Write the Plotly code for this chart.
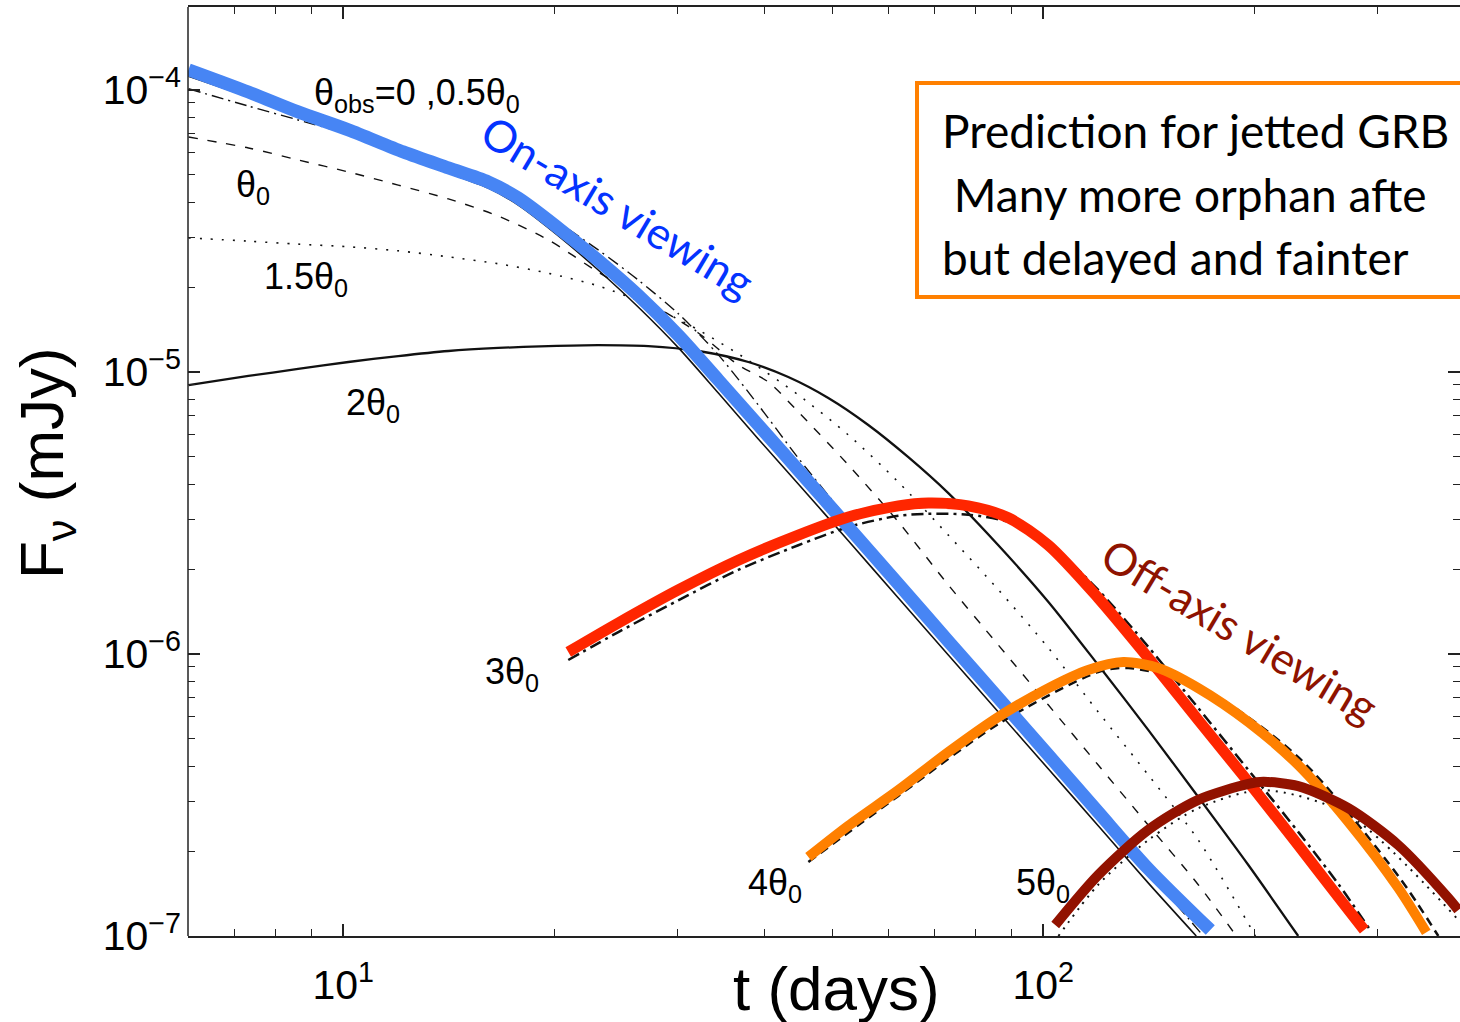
import math
import plotly.graph_objects as go

# ---------------- data: t (days), F_nu (mJy) ----------------
# on-axis highlight (thick blue)
t_blue = [6.01, 7.32, 8.62, 10.17, 12.18, 14.13, 16.11, 17.78, 20.29, 23.13, 26.38, 30.10,
          34.34, 39.16, 44.67, 52.66, 62.08, 73.17, 86.25, 101.7, 119.8, 141.3, 173.2]
f_blue = [1.18e-4, 9.84e-5, 8.36e-5, 7.22e-5, 6.03e-5, 5.29e-5, 4.72e-5, 4.14e-5, 3.24e-5,
          2.49e-5, 1.87e-5, 1.35e-5, 9.37e-6, 6.49e-6, 4.49e-6, 2.82e-6, 1.77e-6, 1.11e-6,
          6.98e-7, 4.38e-7, 2.75e-7, 1.73e-7, 1.05e-7]

# theta_obs = 0 (thin solid)
t_th00 = [6.01, 7.32, 8.62, 10.17, 12.18, 14.13, 16.11, 17.78, 20.29, 23.13, 26.38, 30.10,
          34.34, 39.16, 44.67, 52.66, 62.08, 73.17, 86.25, 101.7, 119.8, 141.3, 165.4]
f_th00 = [1.12e-4, 9.45e-5, 8.02e-5, 6.93e-5, 5.79e-5, 5.08e-5, 4.49e-5, 3.91e-5, 3.04e-5,
          2.30e-5, 1.70e-5, 1.22e-5, 8.42e-6, 5.79e-6, 4.01e-6, 2.52e-6, 1.58e-6, 9.92e-7,
          6.23e-7, 3.91e-7, 2.46e-7, 1.54e-7, 1.0e-7]

# theta_obs = 0.5 theta_0 (dash-dot)
t_th05 = [6.01, 7.32, 8.62, 10.17, 11.98, 14.13, 16.65, 19.63, 23.13, 26.38, 30.10, 34.34,
          39.16, 44.67, 52.66, 62.08, 73.17, 86.25, 101.7, 119.8, 141.3, 169.3]
f_th05 = [1.01e-4, 8.77e-5, 7.83e-5, 6.98e-5, 6.13e-5, 5.38e-5, 4.53e-5, 3.57e-5, 2.71e-5,
          2.12e-5, 1.61e-5, 1.15e-5, 7.64e-6, 4.95e-6, 2.99e-6, 1.83e-6, 1.12e-6, 6.98e-7,
          4.35e-7, 2.71e-7, 1.69e-7, 1.0e-7]

# theta_obs = theta_0 (dashed)
t_th10 = [6.01, 7.32, 8.62, 10.17, 11.98, 14.13, 16.65, 19.63, 23.13, 27.27, 32.15, 36.66,
          40.46, 44.67, 52.66, 62.08, 73.17, 86.25, 101.7, 119.8, 141.3, 166.5, 188.7]
f_th10 = [6.81e-5, 6.23e-5, 5.65e-5, 5.12e-5, 4.60e-5, 4.11e-5, 3.57e-5, 2.94e-5, 2.26e-5,
          1.77e-5, 1.375e-5, 1.059e-5, 9.22e-6, 7.22e-6, 4.68e-6, 2.94e-6, 1.757e-6,
          1.076e-6, 6.59e-7, 4.04e-7, 2.47e-7, 1.52e-7, 1.0e-7]

# theta_obs = 1.5 theta_0 (dotted)
t_th15 = [6.01, 7.32, 8.62, 10.17, 11.98, 14.13, 16.65, 19.63, 23.13, 27.27, 32.15, 37.90,
          44.67, 52.66, 62.08, 73.17, 86.25, 101.7, 119.8, 141.3, 166.5, 200.9]
f_th15 = [2.99e-5, 2.91e-5, 2.84e-5, 2.78e-5, 2.69e-5, 2.56e-5, 2.42e-5, 2.24e-5, 2.02e-5,
          1.73e-5, 1.41e-5, 1.10e-5, 8.29e-6, 5.98e-6, 4.07e-6, 2.64e-6, 1.69e-6, 1.05e-6,
          6.23e-7, 3.72e-7, 2.19e-7, 1.0e-7]

# theta_obs = 2 theta_0 (solid)
t_th20 = [6.01, 7.32, 8.62, 10.17, 11.98, 14.13, 16.65, 19.63, 23.13, 27.27, 32.15, 37.90,
          43.22, 49.30, 56.23, 64.15, 73.17, 86.25, 101.7, 119.8, 141.3, 166.5, 196.3, 231.3]
f_th20 = [8.99e-6, 9.68e-6, 1.025e-5, 1.085e-5, 1.139e-5, 1.187e-5, 1.217e-5, 1.236e-5,
          1.246e-5, 1.236e-5, 1.187e-5, 1.085e-5, 9.60e-6, 8.09e-6, 6.49e-6, 4.99e-6,
          3.72e-6, 2.43e-6, 1.53e-6, 9.14e-7, 5.37e-7, 3.11e-7, 1.785e-7, 1.0e-7]

# theta_obs = 3 theta_0 (black dash-dot) and red highlight
t_th30 = [20.96, 24.71, 30.10, 36.66, 44.67, 52.66, 62.08, 68.50, 78.13, 89.13, 101.7, 119.8,
          141.3, 166.5, 196.3, 231.3, 263.9, 293.1]
f_th30 = [9.52e-7, 1.196e-6, 1.55e-6, 1.986e-6, 2.43e-6, 2.82e-6, 3.09e-6, 3.14e-6, 3.12e-6,
          2.94e-6, 2.47e-6, 1.687e-6, 1.059e-6, 6.43e-7, 3.88e-7, 2.34e-7, 1.53e-7, 1.05e-7]
t_red = [20.96, 24.71, 30.10, 36.66, 44.67, 52.66, 62.08, 68.50, 78.13, 89.13, 101.7, 119.8,
         141.3, 166.5, 196.3, 231.3, 263.9, 287.4]
f_red = [1.016e-6, 1.288e-6, 1.687e-6, 2.15e-6, 2.64e-6, 3.06e-6, 3.35e-6, 3.43e-6, 3.35e-6,
         3.04e-6, 2.43e-6, 1.58e-6, 9.68e-7, 5.83e-7, 3.52e-7, 2.10e-7, 1.375e-7, 1.05e-7]

# theta_obs = 4 theta_0 (black dashed) and orange highlight
t_th40 = [46.17, 62.08, 86.25, 119.8, 132.3, 166.5, 231.3, 321.5, 366.7]
f_th40 = [1.83e-7, 3.14e-7, 5.65e-7, 8.63e-7, 8.92e-7, 7.70e-7, 4.31e-7, 1.632e-7, 1.0e-7]
t_orange = [46.17, 52.66, 62.08, 73.17, 86.25, 101.7, 115.9, 130.1, 146.0, 166.5, 196.3,
            231.3, 272.7, 321.5, 352.5]
f_orange = [1.906e-7, 2.46e-7, 3.29e-7, 4.49e-7, 5.98e-7, 7.57e-7, 8.78e-7, 9.37e-7, 8.92e-7,
            7.57e-7, 5.74e-7, 4.04e-7, 2.54e-7, 1.48e-7, 1.03e-7]

# theta_obs = 5 theta_0 (black dotted) and dark-red highlight
t_th50 = [105.1, 119.8, 141.3, 166.5, 206.2, 272.7, 391.6]
f_th50 = [1.0e-7, 1.52e-7, 2.19e-7, 2.84e-7, 3.29e-7, 2.69e-7, 1.14e-7]
t_dred = [104.0, 119.8, 141.3, 166.5, 196.3, 206.2, 231.3, 272.7, 321.5, 379.0, 391.6]
f_dred = [1.094e-7, 1.645e-7, 2.38e-7, 3.04e-7, 3.46e-7, 3.52e-7, 3.40e-7, 2.84e-7, 2.10e-7,
          1.364e-7, 1.236e-7]

x_tickvals = [10, 100]
x_ticktext = ["10<sup>1</sup>", "10<sup>2</sup>"]
x_minor = [7, 8, 9, 20, 30, 40, 50, 60, 70, 80, 90, 200, 300]
y_tickvals = [1e-7, 1e-6, 1e-5, 1e-4]
y_ticktext = ["10<sup>\u22127</sup>", "10<sup>\u22126</sup>", "10<sup>\u22125</sup>", "10<sup>\u22124</sup>"]
y_minor = [m * 10.0 ** e for e in (-7, -6, -5, -4) for m in range(2, 10)]

curve_labels = ["\u03b8<sub>obs</sub>=0 ,0.5\u03b8<sub>0</sub>", "\u03b8<sub>0</sub>",
                "1.5\u03b8<sub>0</sub>", "2\u03b8<sub>0</sub>", "3\u03b8<sub>0</sub>",
                "4\u03b8<sub>0</sub>", "5\u03b8<sub>0</sub>"]
# the text box runs off the right edge of the slide; only the visible part is kept
box_lines = ["Prediction for jetted GRB", " Many more orphan afte",
             "but delayed and fainter"]

# ---------------- figure ----------------
fig = go.Figure()

def add(t, f, color, width, dash="solid", shape="spline"):
    fig.add_trace(go.Scatter(x=t, y=f, mode="lines", hoverinfo="skip",
                             line=dict(color=color, width=width, dash=dash, shape=shape,
                                       smoothing=0.8)))

BLK = "#111111"
add(t_th00, f_th00, BLK, 1.6)
add(t_th05, f_th05, BLK, 1.4, dash="12px,5px,2px,5px")
add(t_th10, f_th10, BLK, 1.4, dash="9px,10px")
add(t_th15, f_th15, BLK, 1.6, dash="2px,9px")
add(t_th20, f_th20, BLK, 2.3)
add(t_th30, f_th30, BLK, 2.5, dash="12px,5px,3px,5px")
add(t_th40, f_th40, BLK, 2.5, dash="9px,6px")
add(t_th50, f_th50, BLK, 2.0, dash="2px,6px")

add(t_blue, f_blue, "#4785f4", 13)
add(t_red, f_red, "#ff2600", 11)
add(t_orange, f_orange, "#ff8000", 10)
add(t_dred, f_dred, "#921200", 10)

L, R, T, B = 188, 0, 7, 86
W, H = 1460, 1022
pw, ph = W - L - R, H - T - B
PX_PER_DEC_X, PX_PER_DEC_Y = 700.0, 282.0

def px(xp):
    return (xp - L) / pw

def py(yp):
    return (T + ph - yp) / ph

ann = []
lab_pos = [(417, 95), (253, 187), (306, 279), (373, 405), (512, 674), (775, 885), (1043, 885)]
for txt, (xp, yp) in zip(curve_labels, lab_pos):
    ann.append(dict(x=px(xp), y=py(yp), xref="paper", yref="paper", text=txt, showarrow=False,
                    xanchor="center", yanchor="middle",
                    font=dict(family="Liberation Sans", size=36, color="black")))

ann.append(dict(x=px(618), y=py(206), xref="paper", yref="paper", text="On-axis viewing",
                showarrow=False, textangle=31, xanchor="center", yanchor="middle",
                font=dict(family="Lato", size=44, color="#0433ff")))
ann.append(dict(x=px(1240), y=py(630), xref="paper", yref="paper", text="Off-axis viewing",
                showarrow=False, textangle=31, xanchor="center", yanchor="middle",
                font=dict(family="Lato", size=44, color="#8e1300")))

for txt, yp in zip(box_lines, [131, 194, 257]):
    ann.append(dict(x=px(940), y=py(yp), xref="paper", yref="paper", text=txt,
                    showarrow=False, xanchor="left", yanchor="middle",
                    font=dict(family="Lato", size=46, color="black")))

ann.append(dict(x=px(836), y=py(988), xref="paper", yref="paper", text="t (days)",
                showarrow=False, xanchor="center", yanchor="middle",
                font=dict(family="Liberation Sans", size=62, color="black")))
ann.append(dict(x=px(46), y=py(463), xref="paper", yref="paper",
                text="F<sub>\u03bd</sub> (mJy)", textangle=-90,
                showarrow=False, xanchor="center", yanchor="middle",
                font=dict(family="Liberation Sans", size=62, color="black")))

shapes = [
    dict(type="rect", xref="paper", yref="paper", x0=px(917), x1=px(1560),
         y0=py(297), y1=py(83), line=dict(color="#ff8000", width=4),
         fillcolor="white", layer="above"),
    # left frame line (the right frame line lies just outside the slide)
    dict(type="line", xref="paper", yref="paper", x0=0, x1=0, y0=0, y1=1,
         line=dict(color="#222222", width=1.5), layer="above"),
]

tick_style = dict(ticks="inside", ticklen=12, tickwidth=1.5, tickcolor="#222222",
                  tickfont=dict(family="Liberation Sans", size=41, color="black"))

x0_log = math.log10(6.0)
fig.update_layout(
    width=W, height=H, autosize=False,
    margin=dict(l=L, r=R, t=T, b=B, pad=0),
    paper_bgcolor="white", plot_bgcolor="white",
    showlegend=False,
    xaxis=dict(type="log", showgrid=False, zeroline=False, showline=True,
               linecolor="#222222", linewidth=1.5, mirror="ticks",
               range=[x0_log, x0_log + pw / PX_PER_DEC_X], tickmode="array",
               tickvals=x_tickvals, ticktext=x_ticktext, ticklabelstandoff=12,
               minor=dict(tickmode="array", tickvals=x_minor, ticks="inside", ticklen=7,
                          tickwidth=1.2, tickcolor="#222222"),
               **tick_style),
    yaxis=dict(type="log", showgrid=False, zeroline=False, showline=False, mirror="ticks",
               range=[-7, -7 + ph / PX_PER_DEC_Y], tickmode="array",
               tickvals=y_tickvals, ticktext=y_ticktext, ticklabelstandoff=6,
               minor=dict(tickmode="array", tickvals=y_minor, ticks="inside", ticklen=7,
                          tickwidth=1.2, tickcolor="#222222"),
               **tick_style),
    annotations=ann, shapes=shapes,
)

fig.write_html("out.html")
